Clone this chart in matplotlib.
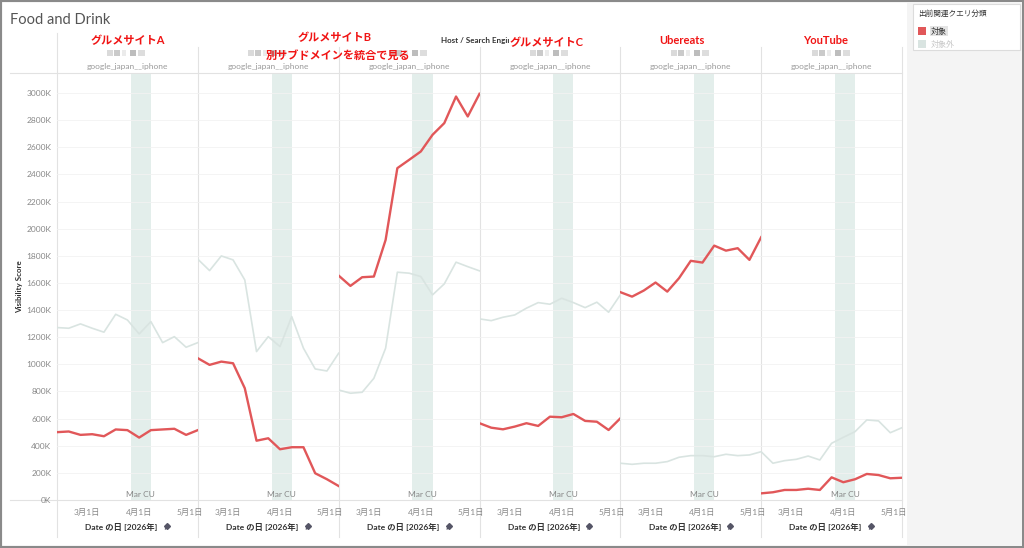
import matplotlib
matplotlib.use("Agg")
import matplotlib.pyplot as plt
import matplotlib.transforms as mtransforms
import pandas as pd
from matplotlib.patches import Rectangle

plt.rcParams["font.family"] = ["Lato", "Noto Sans CJK JP", "DejaVu Sans"]

# weekly visibility score (K) per host
dates = pd.date_range("2026-02-11", periods=13, freq="7D")
core_update = (pd.Timestamp("2026-03-27"), pd.Timestamp("2026-04-08"))

red_a = [500, 505, 480, 485, 470, 520, 515, 460, 515, 520, 525, 480, 515]
gray_a = [1271, 1266, 1298, 1266, 1237, 1369, 1327, 1224, 1315, 1160, 1204, 1126, 1160]
red_b1 = [1045, 996, 1020, 1008, 824, 437, 455, 374, 389, 389, 197, 153, 103]
gray_b1 = [1775, 1691, 1799, 1770, 1622, 1094, 1204, 1131, 1352, 1119, 966, 951, 1082]
red_b2 = [1654, 1578, 1642, 1647, 1917, 2446, 2507, 2569, 2692, 2778, 2974, 2827, 2994]
gray_b2 = [811, 787, 794, 897, 1119, 1679, 1672, 1647, 1512, 1593, 1753, 1720, 1689]
red_c = [566, 533, 521, 541, 566, 546, 614, 610, 634, 583, 577, 516, 602]
gray_c = [1335, 1322, 1347, 1364, 1414, 1455, 1443, 1487, 1455, 1418, 1458, 1384, 1512]
red_ue = [1532, 1499, 1544, 1603, 1536, 1635, 1763, 1750, 1875, 1838, 1856, 1770, 1937]
gray_ue = [271, 263, 271, 271, 283, 315, 327, 327, 319, 337, 327, 332, 356]
red_yt = [49, 57, 74, 74, 83, 74, 167, 131, 153, 192, 184, 160, 164]
gray_yt = [356, 271, 290, 300, 324, 295, 418, 462, 504, 590, 583, 496, 533]

panels = [
    (red_a, gray_a),
    (red_b1, gray_b1),
    (red_b2, gray_b2),
    (red_c, gray_c),
    (red_ue, gray_ue),
    (red_yt, gray_yt),
]
y_ticks = list(range(0, 3001, 200))
x_ticks = [pd.Timestamp("2026-03-01"), pd.Timestamp("2026-04-01"), pd.Timestamp("2026-05-01")]
x_tick_labels = ["3月1日", "4月1日", "5月1日"]

RED = "#e15759"
LIGHT = "#d9e4e1"
BAND = "#e3eeeb"
SEP = "#e2e2e2"

W, H = 1024, 548
fig = plt.figure(figsize=(W / 100, H / 100), dpi=100)

# background canvas in pixel coordinates
bg = fig.add_axes([0, 0, 1, 1])
bg.set_xlim(0, W)
bg.set_ylim(H, 0)
bg.axis("off")
bg.add_patch(Rectangle((0, 0), W, H, facecolor="white", edgecolor="#8a8a8a", lw=3))
bg.add_patch(Rectangle((907, 2), 115, 544, facecolor="#f4f4f4", edgecolor="none"))
bg.add_patch(Rectangle((913, 4), 107, 46, facecolor="white", edgecolor="#dcdcdc", lw=0.8))

left, right, top, bottom = 57, 902, 74, 500
pw = (right - left) / len(panels)

bg.text(10, 20, "Food and Drink", fontsize=10.5, color="#555555", va="center")

# separators
bg.plot([10, right], [73, 73], color=SEP, lw=0.8)
bg.plot([10, right], [bottom, bottom], color=SEP, lw=0.8)
for i in range(len(panels) + 1):
    x = left + i * pw
    bg.plot([x, x], [33 if i == 0 else 47, 537], color=SEP, lw=0.8)

bg.text(441, 41, "Host / Search Engine", fontsize=5.8, color="#333333", fontweight="bold", va="center")

for i in range(len(panels)):
    cx = left + (i + 0.5) * pw
    bg.text(cx, 66, "google_japan__iphone", fontsize=6, color="#9a9a9a", ha="center", va="center")
    # redacted host name
    for dx, w, c in [(-20, 6, "#dadada"), (-13, 6, "#cacaca"), (-5, 4, "#ebebeb"),
                     (3, 6, "#bdbdbd"), (11, 7, "#dddddd")]:
        bg.add_patch(Rectangle((cx + dx, 50), w, 6, facecolor=c, edgecolor="none"))
    bg.text(cx - 6, 527, "Date の日 [2026年]", fontsize=6, color="#333333",
            fontweight="bold", ha="center", va="center")
    bg.plot([cx + 38, cx + 41], [529, 525], color="#555566", lw=0.9)
    bg.plot([cx + 39.5], [525.5], marker="D", ms=3, color="#555566")

red_kw = dict(fontsize=8, color="#f01414", fontweight="bold", ha="center", va="center")
bg.text(left + 0.5 * pw, 41, "グルメサイトA", **red_kw)
bg.text(left + 2 * pw - 4, 38, "グルメサイトB", **red_kw)
bg.text(left + 2 * pw - 1, 55, "別サブドメインを統合で見る", **red_kw)
bg.text(left + 3.5 * pw - 3, 43, "グルメサイトC",
        bbox=dict(facecolor="white", edgecolor="none", pad=0.3), **red_kw)
bg.text(left + 4.5 * pw - 9, 40, "Ubereats", **red_kw)
bg.text(left + 5.5 * pw - 6, 40, "YouTube", **red_kw)

bg.text(20, 287, "Visibility Score", fontsize=5.8, color="#333333", fontweight="bold",
        rotation=90, ha="center", va="center")

# legend
bg.text(918, 13, "出前関連クエリ分類", fontsize=5.5, color="#333333", va="center")
bg.add_patch(Rectangle((918, 27), 8, 8, facecolor=RED, edgecolor="none"))
bg.text(931, 31, "対象", fontsize=5.8, color="#333333", va="center",
        bbox=dict(facecolor="#e4e4e4", edgecolor="none", pad=0.8))
bg.add_patch(Rectangle((918, 40), 8, 8, facecolor=LIGHT, edgecolor="none"))
bg.text(931, 44, "対象外", fontsize=5.8, color="#c8c8c8", va="center")

for i, (red, gray) in enumerate(panels):
    ax = fig.add_axes([(left + i * pw) / W, 1 - bottom / H, pw / W, (bottom - top) / H])
    ax.set_facecolor("none")
    ax.axvspan(*core_update, color=BAND, lw=0, zorder=0)
    ax.plot(dates, gray, color=LIGHT, lw=1.2, zorder=2)
    ax.plot(dates, red, color=RED, lw=1.7, zorder=3)
    ax.set_xlim(dates[0], dates[-1])
    ax.set_ylim(0, 3140)
    ax.set_yticks(y_ticks)
    ax.grid(axis="y", color="#f2f2f2", lw=0.6)
    ax.set_axisbelow(True)
    ax.set_xticks(x_ticks)
    ax.set_xticklabels(x_tick_labels)
    ax.tick_params(length=0, labelsize=6, labelcolor="#888888")
    ax.tick_params(axis="x", pad=6)
    if i == 0:
        ax.set_yticklabels([f"{v}K" for v in y_ticks])
        ax.tick_params(axis="y", pad=4)
    else:
        ax.set_yticklabels([])
    for s in ax.spines.values():
        s.set_visible(False)
    trans = mtransforms.blended_transform_factory(ax.transData, ax.transAxes)
    mid = core_update[0] + (core_update[1] - core_update[0]) / 2
    ax.text(mid, 0.014, "Mar CU", transform=trans, fontsize=6, color="#888888",
            ha="center", va="center", zorder=4)

fig.savefig("out.png", dpi=100)
